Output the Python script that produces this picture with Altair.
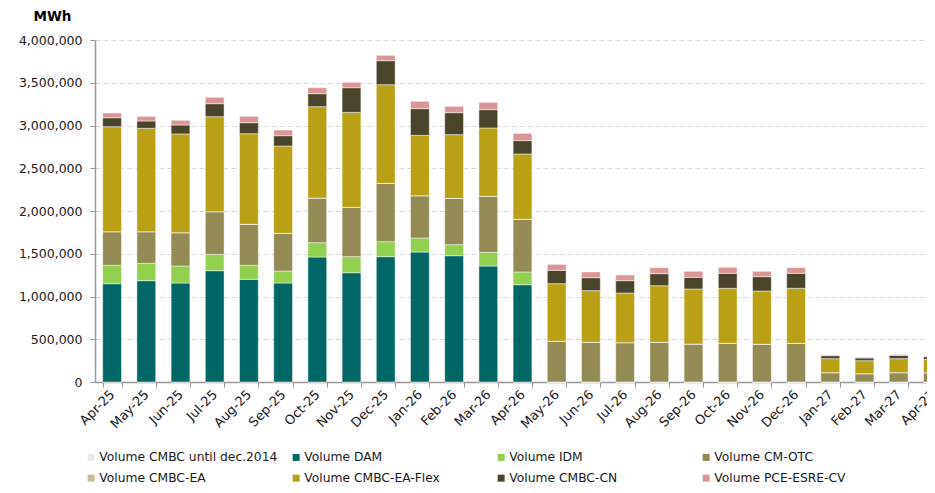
import altair as alt
import pandas as pd

months = ["Apr-25", "May-25", "Jun-25", "Jul-25", "Aug-25", "Sep-25", "Oct-25", "Nov-25",
          "Dec-25", "Jan-26", "Feb-26", "Mar-26", "Apr-26", "May-26", "Jun-26", "Jul-26",
          "Aug-26", "Sep-26", "Oct-26", "Nov-26", "Dec-26", "Jan-27", "Feb-27", "Mar-27", "Apr-27"]

series_names = ["Volume CMBC until dec.2014", "Volume DAM", "Volume IDM", "Volume CM-OTC",
                "Volume CMBC-EA", "Volume CMBC-EA-Flex", "Volume CMBC-CN", "Volume PCE-ESRE-CV"]
series_colors = ["#e8e8e8", "#006666", "#92d050", "#948a54",
                 "#c4bd97", "#b9a014", "#4a442a", "#d99694"]

cmbc_2014 = [0] * 25
dam = [1150000, 1185000, 1158000, 1302000, 1201000, 1158000, 1462000, 1278000, 1466000,
       1520000, 1477000, 1357000, 1138000] + [0] * 12
idm = [215000, 203000, 199000, 191000, 164000, 140000, 167000, 188000, 175000,
       164000, 129000, 160000, 149000] + [0] * 12
cm_otc = [393000, 370000, 389000, 499000, 479000, 441000, 523000, 577000, 683000,
          495000, 542000, 655000, 616000, 476000, 464000, 460000, 464000, 444000,
          452000, 441000, 452000, 109000, 97000, 109000, 109000]
cmbc_ea = [0] * 25
cmbc_ea_flex = [1228000, 1209000, 1155000, 1111000, 1060000, 1021000, 1068000, 1111000,
                1153000, 706000, 745000, 799000, 764000, 674000, 604000, 581000, 662000,
                644000, 644000, 623000, 644000, 164000, 152000, 164000, 156000]
cmbc_cn = [105000, 86000, 105000, 152000, 129000, 121000, 152000, 288000, 281000,
           312000, 257000, 214000, 156000, 156000, 152000, 144000, 141000, 136000,
           175000, 168000, 175000, 35000, 32000, 39000, 31000]
pce_esre_cv = [55000, 54000, 55000, 75000, 74000, 66000, 70000, 63000, 63000,
               86000, 74000, 86000, 85000, 70000, 67000, 66000, 70000, 71000,
               70000, 63000, 66000, 8000, 8000, 7000, 8000]

y_ticks = [0, 500000, 1000000, 1500000, 2000000, 2500000, 3000000, 3500000, 4000000]

all_series = [cmbc_2014, dam, idm, cm_otc, cmbc_ea, cmbc_ea_flex, cmbc_cn, pce_esre_cv]
rows = []
for si, (name, vals) in enumerate(zip(series_names, all_series)):
    for m, v in zip(months, vals):
        rows.append({"month": m, "series": name, "value": v, "order": si})
df = pd.DataFrame(rows)

FONT = "DejaVu Sans"

chart = alt.Chart(df).mark_bar(
    stroke="#ffffff", strokeWidth=0.8, strokeOpacity=0.6
).encode(
    x=alt.X("month:N", sort=months,
            scale=alt.Scale(paddingInner=0.45, paddingOuter=0.225, range=[0, 855]),
            axis=alt.Axis(title=None, labelAngle=-45, labelAlign="right",
                          labelBaseline="middle", labelPadding=5, labelFontSize=13,
                          labelFont=FONT, labelColor="#1a1a1a", tickBand="extent",
                          tickSize=5, tickColor="#999999", domainColor="#999999",
                          domainWidth=1.5, grid=False)),
    y=alt.Y("value:Q", stack="zero",
            scale=alt.Scale(domain=[0, 4000000], nice=False),
            axis=alt.Axis(title="MWh", titleAngle=0, titleX=-43, titleY=-24,
                          titleAlign="center", titleBaseline="middle",
                          titleFont=FONT, titleFontSize=13.5, titleFontWeight="bold",
                          titleColor="#000000",
                          values=y_ticks, format=",d", labelFont=FONT,
                          labelFontSize=12.5, labelColor="#1a1a1a", labelPadding=8,
                          tickSize=5, tickColor="#999999", domainColor="#999999",
                          domainWidth=1.5, grid=True, gridColor="#d9d9d9",
                          gridDash=[5, 3], gridWidth=1)),
    color=alt.Color("series:N",
                    scale=alt.Scale(domain=series_names, range=series_colors),
                    legend=alt.Legend(title=None, orient="none", legendX=-10, legendY=411,
                                      direction="horizontal", columns=4, gridAlign="all",
                                      columnPadding=12, rowPadding=8,
                                      symbolType="square", symbolSize=49,
                                      symbolStrokeWidth=0, labelFont=FONT,
                                      labelFontSize=12.3, labelColor="#1a1a1a",
                                      labelOffset=2, labelLimit=300)),
    order=alt.Order("order:Q", sort="ascending"),
).properties(
    width=832, height=342,
    autosize=alt.AutoSizeParams(type="none"),
    padding={"left": 87, "top": 32, "right": 0, "bottom": 103},
).configure_view(stroke=None)

chart.save("out.html", embed_options={"renderer": "svg", "actions": False})
